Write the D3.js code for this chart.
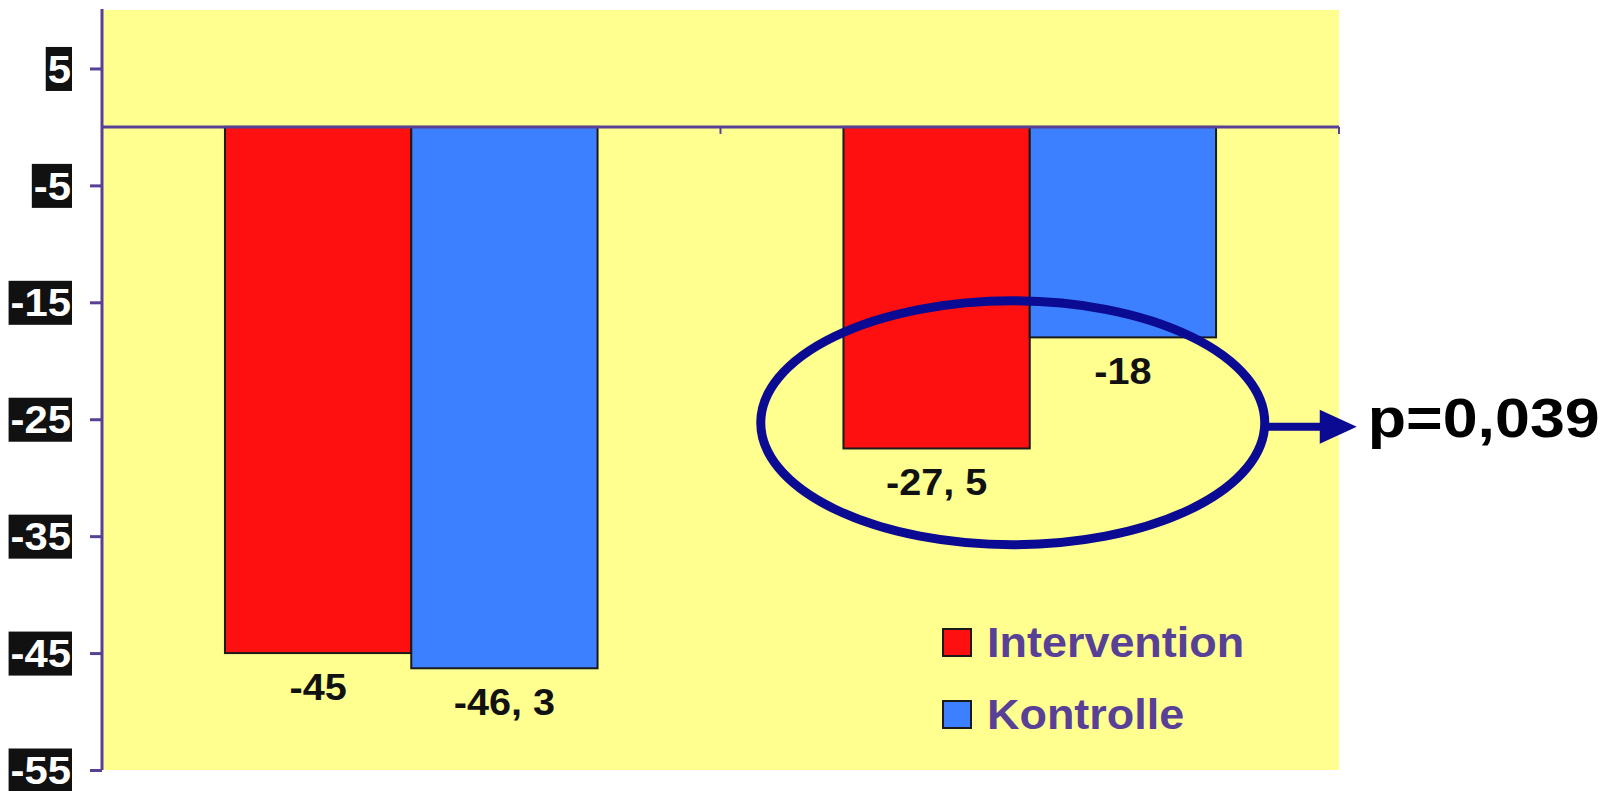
<!DOCTYPE html>
<html>
<head>
<meta charset="utf-8">
<script src="https://cdn.jsdelivr.net/npm/d3@7"></script>
<style>
  body { margin: 0; background: #fff; }
  text { font-family: "Liberation Sans", Arial, sans-serif; font-weight: bold; }
</style>
</head>
<body>
<div id="VizBox"></div>
<script>
// data
var groups = ["Gruppe 1", "Gruppe 2"];
var series = ["Intervention", "Kontrolle"];
var intervention = [-45, -27.5];
var kontrolle = [-46.3, -18];
var yTicks = [5, -5, -15, -25, -35, -45, -55];
var pText = "p=0,039";

var colors = {Intervention: "#ff1010", Kontrolle: "#3d80ff"};
var purple = "#574096";
var navy = "#0a0a92";

var margin = {top: 10, right: 276, bottom: 21, left: 102},
    width = 1615 - margin.left - margin.right,
    height = 791 - margin.top - margin.bottom;

// the original text looks a bit wider than Arial, so stretch it
function stretch(sel, k) {
  sel.each(function() {
    var w = this.getComputedTextLength();
    d3.select(this)
      .attr("textLength", w * k)
      .attr("lengthAdjust", "spacingAndGlyphs");
  });
}

var svg = d3.select("#VizBox")
  .append("svg")
    .attr("width", 1615)
    .attr("height", 791)
  .append("g")
    .attr("transform", "translate(" + margin.left + "," + margin.top + ")");

// plot background
svg.append("rect")
  .attr("width", width)
  .attr("height", height)
  .attr("fill", "#ffff90");

var x0 = d3.scaleBand()
  .domain(groups)
  .range([0, width])
  .padding(0);

var x1 = d3.scaleBand()
  .domain(series)
  .range([0, x0.bandwidth()])
  .paddingInner(0)
  .paddingOuter(0.66);

var y = d3.scaleLinear()
  .domain([-55, 10])
  .range([height, 0]);

var data = groups.map(function(g, i) {
  return {group: g, values: [
    {key: "Intervention", value: intervention[i]},
    {key: "Kontrolle", value: kontrolle[i]}
  ]};
});

// bars
var grp = svg.selectAll(".grp")
  .data(data)
  .enter()
  .append("g")
    .attr("class", "grp")
    .attr("transform", function(d) { return "translate(" + x0(d.group) + ",0)"; });

grp.selectAll("rect")
  .data(function(d) { return d.values; })
  .enter()
  .append("rect")
    .attr("x", function(d) { return x1(d.key); })
    .attr("y", y(0))
    .attr("width", x1.bandwidth())
    .attr("height", function(d) { return y(d.value) - y(0); })
    .attr("fill", function(d) { return colors[d.key]; })
    .attr("stroke", "#1a1a1a")
    .attr("stroke-width", 2);

// value labels
grp.selectAll(".val")
  .data(function(d) { return d.values; })
  .enter()
  .append("text")
    .attr("class", "val")
    .attr("x", function(d) { return x1(d.key) + x1.bandwidth() / 2; })
    .attr("y", function(d) { return y(d.value) + 47; })
    .attr("text-anchor", "middle")
    .attr("font-size", "36px")
    .attr("fill", "#111")
    .text(function(d) { return String(d.value).replace(".", ", "); })
    .call(stretch, 1.1);

// zero line with ticks at the band edges
svg.append("line")
  .attr("x1", 0).attr("x2", width)
  .attr("y1", y(0)).attr("y2", y(0))
  .attr("stroke", purple)
  .attr("stroke-width", 3);

svg.selectAll(".xtick")
  .data(groups)
  .enter()
  .append("line")
    .attr("x1", function(d) { return x0(d) + x0.bandwidth(); })
    .attr("x2", function(d) { return x0(d) + x0.bandwidth(); })
    .attr("y1", y(0))
    .attr("y2", y(0) + 7)
    .attr("stroke", purple)
    .attr("stroke-width", 2);

// Y axis
var yAxis = svg.append("g")
  .call(d3.axisLeft(y).tickValues(yTicks).tickSize(12).tickSizeOuter(0).tickFormat(function(d) { return d; }));

yAxis.select(".domain")
  .attr("stroke", purple)
  .attr("stroke-width", 3)
  .attr("d", "M0,-1V" + height);
yAxis.selectAll(".tick line")
  .attr("stroke", purple)
  .attr("stroke-width", 3);
yAxis.selectAll(".tick text")
  .attr("x", -31)
  .attr("dy", "0.36em")
  .attr("font-size", "38px")
  .attr("font-family", "Liberation Sans, Arial, sans-serif")
  .attr("fill", "#fff")
  .call(stretch, 1.1);

// black boxes behind tick labels
yAxis.selectAll(".tick").each(function() {
  var t = d3.select(this).select("text");
  var b = t.node().getBBox();
  d3.select(this).insert("rect", "text")
    .attr("x", b.x - 2)
    .attr("y", -22)
    .attr("width", -30 - (b.x - 2))
    .attr("height", 44)
    .attr("fill", "#111");
});

// ellipse around group 2 and arrow to p value
var cx = x0(groups[1]) + x0.bandwidth() / 2 - 17,
    cy = y(-25.3),
    rx = 252,
    ry = 122;

svg.append("ellipse")
  .attr("cx", cx)
  .attr("cy", cy)
  .attr("rx", rx)
  .attr("ry", ry)
  .attr("fill", "none")
  .attr("stroke", navy)
  .attr("stroke-width", 9);

svg.append("line")
  .attr("x1", cx + rx)
  .attr("x2", cx + rx + 58)
  .attr("y1", cy + 4)
  .attr("y2", cy + 4)
  .attr("stroke", navy)
  .attr("stroke-width", 8);

svg.append("path")
  .attr("d", "M" + (cx + rx + 55) + "," + (cy - 13) + "L" + (cx + rx + 92) + "," + (cy + 4) + "L" + (cx + rx + 55) + "," + (cy + 21) + "Z")
  .attr("fill", navy);

svg.append("text")
  .attr("x", cx + rx + 103)
  .attr("y", cy + 14)
  .attr("font-size", "56px")
  .attr("fill", "#000")
  .text(pText)
  .call(stretch, 1.12);

// legend
var legend = svg.selectAll(".legend")
  .data(series)
  .enter()
  .append("g")
    .attr("class", "legend")
    .attr("transform", function(d, i) { return "translate(841," + (619 + i * 72) + ")"; });

legend.append("rect")
  .attr("width", 28)
  .attr("height", 27)
  .attr("fill", function(d) { return colors[d]; })
  .attr("stroke", "#1a1a1a")
  .attr("stroke-width", 2);

legend.append("text")
  .attr("x", 44)
  .attr("y", 28)
  .attr("font-size", "42px")
  .attr("fill", purple)
  .text(function(d) { return d; })
  .call(stretch, 1.07);
</script>
</body>
</html>
